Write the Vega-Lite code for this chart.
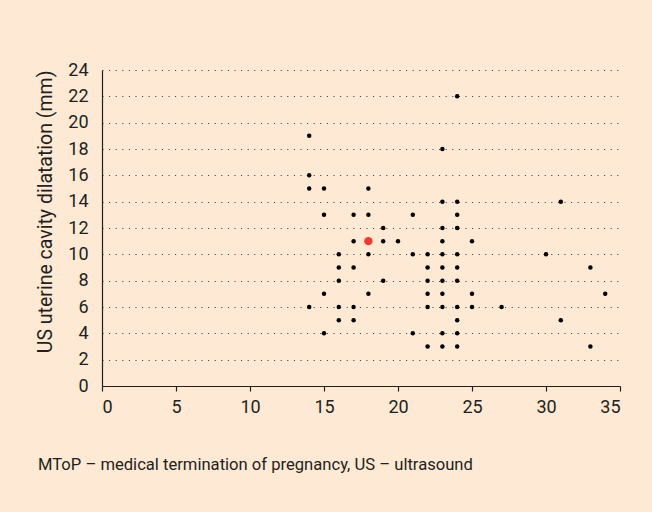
{
  "$schema": "https://vega.github.io/schema/vega-lite/v6.json",
  "width": 518,
  "height": 316,
  "autosize": {"type": "none"},
  "padding": {"left": 102, "top": 70, "right": 32, "bottom": 126},
  "background": "#FEE9D4",
  "config": {
    "view": {"stroke": null},
    "font": "Roboto"
  },
  "title": {
    "text": "MToP – medical termination of pregnancy, US – ultrasound",
    "orient": "bottom",
    "anchor": "start",
    "frame": "group",
    "offset": 41,
    "dx": -64,
    "fontSize": 16.6,
    "fontWeight": "normal",
    "color": "#231F20",
    "font": "Roboto"
  },
  "data": {
    "values": [
      {"x": 24, "y": 22, "hl": "no"}, {"x": 14, "y": 19, "hl": "no"}, {"x": 23, "y": 18, "hl": "no"},
      {"x": 14, "y": 16, "hl": "no"}, {"x": 14, "y": 15, "hl": "no"}, {"x": 15, "y": 15, "hl": "no"},
      {"x": 18, "y": 15, "hl": "no"}, {"x": 23, "y": 14, "hl": "no"}, {"x": 24, "y": 14, "hl": "no"},
      {"x": 31, "y": 14, "hl": "no"}, {"x": 15, "y": 13, "hl": "no"}, {"x": 17, "y": 13, "hl": "no"},
      {"x": 18, "y": 13, "hl": "no"}, {"x": 21, "y": 13, "hl": "no"}, {"x": 24, "y": 13, "hl": "no"},
      {"x": 19, "y": 12, "hl": "no"}, {"x": 23, "y": 12, "hl": "no"}, {"x": 24, "y": 12, "hl": "no"},
      {"x": 17, "y": 11, "hl": "no"}, {"x": 19, "y": 11, "hl": "no"},
      {"x": 20, "y": 11, "hl": "no"}, {"x": 23, "y": 11, "hl": "no"}, {"x": 25, "y": 11, "hl": "no"},
      {"x": 16, "y": 10, "hl": "no"}, {"x": 18, "y": 10, "hl": "no"}, {"x": 21, "y": 10, "hl": "no"},
      {"x": 22, "y": 10, "hl": "no"}, {"x": 23, "y": 10, "hl": "no"}, {"x": 24, "y": 10, "hl": "no"},
      {"x": 30, "y": 10, "hl": "no"}, {"x": 16, "y": 9, "hl": "no"}, {"x": 17, "y": 9, "hl": "no"},
      {"x": 22, "y": 9, "hl": "no"}, {"x": 23, "y": 9, "hl": "no"}, {"x": 24, "y": 9, "hl": "no"},
      {"x": 33, "y": 9, "hl": "no"}, {"x": 16, "y": 8, "hl": "no"}, {"x": 19, "y": 8, "hl": "no"},
      {"x": 22, "y": 8, "hl": "no"}, {"x": 23, "y": 8, "hl": "no"}, {"x": 24, "y": 8, "hl": "no"},
      {"x": 15, "y": 7, "hl": "no"}, {"x": 18, "y": 7, "hl": "no"}, {"x": 22, "y": 7, "hl": "no"},
      {"x": 23, "y": 7, "hl": "no"}, {"x": 25, "y": 7, "hl": "no"}, {"x": 34, "y": 7, "hl": "no"},
      {"x": 14, "y": 6, "hl": "no"}, {"x": 16, "y": 6, "hl": "no"}, {"x": 17, "y": 6, "hl": "no"},
      {"x": 22, "y": 6, "hl": "no"}, {"x": 23, "y": 6, "hl": "no"}, {"x": 24, "y": 6, "hl": "no"},
      {"x": 25, "y": 6, "hl": "no"}, {"x": 27, "y": 6, "hl": "no"}, {"x": 16, "y": 5, "hl": "no"},
      {"x": 17, "y": 5, "hl": "no"}, {"x": 24, "y": 5, "hl": "no"}, {"x": 31, "y": 5, "hl": "no"},
      {"x": 15, "y": 4, "hl": "no"}, {"x": 21, "y": 4, "hl": "no"}, {"x": 23, "y": 4, "hl": "no"},
      {"x": 24, "y": 4, "hl": "no"}, {"x": 22, "y": 3, "hl": "no"}, {"x": 23, "y": 3, "hl": "no"},
      {"x": 24, "y": 3, "hl": "no"}, {"x": 33, "y": 3, "hl": "no"},
      {"x": 18, "y": 11, "hl": "yes"}
    ]
  },
  "mark": {"type": "circle", "opacity": 1},
  "encoding": {
    "x": {
      "field": "x",
      "type": "quantitative",
      "scale": {"domain": [0, 35], "nice": false, "zero": false},
      "axis": {
        "title": null,
        "values": [0, 5, 10, 15, 20, 25, 30, 35],
        "grid": false,
        "domainColor": "#231F20",
        "domainWidth": 1.2,
        "tickColor": "#231F20",
        "tickWidth": 1.2,
        "tickSize": 5,
        "labelPadding": 7,
        "labelFontSize": 18,
        "labelColor": "#231F20",
        "labelFont": "Roboto"
      }
    },
    "y": {
      "field": "y",
      "type": "quantitative",
      "scale": {"domain": [0, 24], "nice": false},
      "axis": {
        "title": "US uterine cavity dilatation (mm)",
        "values": [0, 2, 4, 6, 8, 10, 12, 14, 16, 18, 20, 22, 24],
        "grid": true,
        "gridColor": "#231F20",
        "gridDash": [1, 5.6],
        "gridWidth": 1,
        "gridOpacity": 0.9,
        "domainColor": "#231F20",
        "domainWidth": 1.2,
        "ticks": false,
        "labelPadding": 14,
        "labelFontSize": 18,
        "labelColor": "#231F20",
        "labelFont": "Roboto",
        "titleFontSize": 19.5,
        "titleFontWeight": "normal",
        "titleColor": "#231F20",
        "titleFont": "Roboto",
        "titleAnchor": "end",
        "titlePadding": 12
      }
    },
    "color": {
      "field": "hl",
      "type": "nominal",
      "scale": {"domain": ["no", "yes"], "range": ["#000000", "#EE3A2F"]},
      "legend": null
    },
    "size": {
      "field": "hl",
      "type": "nominal",
      "scale": {"domain": ["no", "yes"], "range": [20, 70]},
      "legend": null
    },
    "order": {"field": "hl", "type": "nominal"}
  }
}
